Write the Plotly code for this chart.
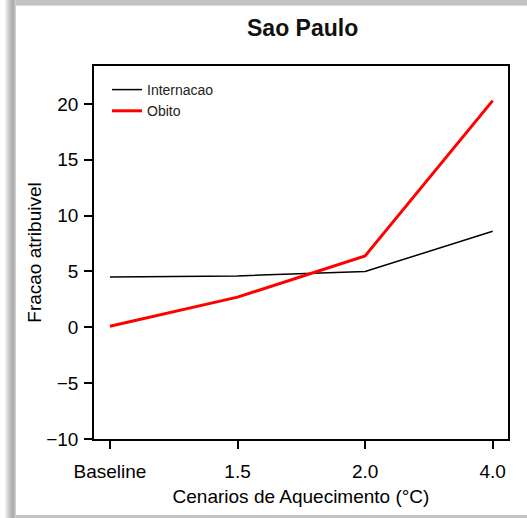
import plotly.graph_objects as go

# scenario positions and labels
cenarios = [1, 2, 3, 4]
cenario_labels = ["Baseline", "1.5", "2.0", "4.0"]

# attributable fraction (%)
internacao = [4.5, 4.6, 5.0, 8.6]
obito = [0.1, 2.7, 6.4, 20.3]

y_ticks = [-10, -5, 0, 5, 10, 15, 20]

W, H = 527, 518
L, R, T, B = 94, 19, 66, 79
pw, ph = W - L - R, H - T - B


def px(x):
    return (x - L) / pw


def py(y):
    return 1 - (y - T) / ph


FONT = "Liberation Sans, Arial, sans-serif"

fig = go.Figure()
fig.add_trace(go.Scatter(x=cenarios, y=internacao, mode="lines", name="Internacao",
                         line=dict(color="black", width=1.5)))
fig.add_trace(go.Scatter(x=cenarios, y=obito, mode="lines", name="Obito",
                         line=dict(color="#ff0000", width=3)))

# frame / shadow around the picture
shapes = []
shades = ["#f2f2f2", "#e6e6e6", "#dadada", "#cfcfcf", "#c4c4c4", "#bbbbbb",
          "#b5b5b5", "#b0b0b0", "#b0b0b0", "#b8b8b8", "#d0d0d0"]
for i, c in enumerate(shades):
    shapes.append(dict(type="rect", xref="paper", yref="paper",
                       x0=px(5 + i), x1=px(6 + i), y0=py(518), y1=py(0),
                       fillcolor=c, line_width=0, layer="below"))
shapes.append(dict(type="rect", xref="paper", yref="paper",
                   x0=px(16), x1=px(527), y0=py(5), y1=py(0),
                   fillcolor="#c3c3c3", line_width=0, layer="below"))
shapes.append(dict(type="rect", xref="paper", yref="paper",
                   x0=px(16), x1=px(527), y0=py(6), y1=py(5),
                   fillcolor="#dddddd", line_width=0, layer="below"))
shapes.append(dict(type="rect", xref="paper", yref="paper",
                   x0=px(16), x1=px(527), y0=py(518), y1=py(515),
                   fillcolor="#c3c3c3", line_width=0, layer="below"))

fig.update_layout(
    width=W, height=H,
    margin=dict(l=L, r=R, t=T, b=B),
    paper_bgcolor="white", plot_bgcolor="white",
    font=dict(family=FONT, color="black"),
    shapes=shapes,
    showlegend=True,
    legend=dict(x=px(107), y=py(74), xanchor="left", yanchor="top",
                bgcolor="rgba(0,0,0,0)", font=dict(size=14, color="#222"),
                itemwidth=30, tracegroupgap=0),
    annotations=[dict(text="<b>Sao Paulo</b>", xref="paper", yref="paper",
                      x=px(302), y=py(28), xanchor="center", yanchor="middle",
                      showarrow=False, font=dict(size=23, color="#111"))],
)

fig.update_xaxes(
    range=[0.875, 4.12], tickvals=cenarios, ticktext=cenario_labels,
    showgrid=False, zeroline=False,
    showline=True, mirror=True, linecolor="black", linewidth=1.5,
    ticks="outside", ticklen=8, tickwidth=1.5, tickcolor="black",
    tickfont=dict(size=19), ticklabelstandoff=6,
    title=dict(text="Cenarios de Aquecimento (°C)", font=dict(size=19), standoff=9),
)
fig.update_yaxes(
    range=[-10, 23.4], tickvals=y_ticks,
    showgrid=False, zeroline=False,
    showline=True, mirror=True, linecolor="black", linewidth=1.5,
    ticks="outside", ticklen=8, tickwidth=1.5, tickcolor="black",
    tickfont=dict(size=19), ticklabelstandoff=2,
    title=dict(text="Fracao atribuivel", font=dict(size=19), standoff=0),
)

fig.write_html("out.html", config={"displayModeBar": False},
               post_script="document.body.style.margin='0';")
